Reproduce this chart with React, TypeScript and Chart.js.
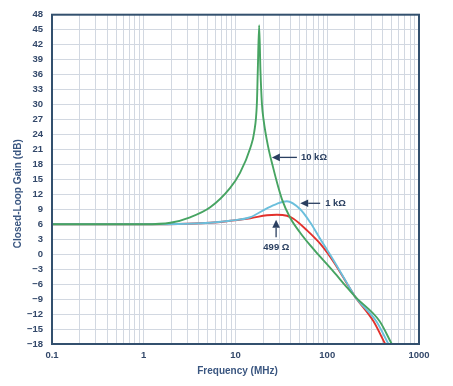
import React, { useEffect, useRef } from 'react';
import { Chart, registerables } from 'chart.js';

Chart.register(...registerables);

// ---- data ----
const X_TICKS = [0.1, 1, 10, 100, 1000];
const Y_TICKS = [-18, -15, -12, -9, -6, -3, 0, 3, 6, 9, 12, 15, 18, 21, 24, 27, 30, 33, 36, 39, 42, 45, 48];

const GREEN_FREQ = [0.1, 1, 1.95, 3.2, 5.3, 8.75, 11.2, 14.5, 16.0, 17.1, 17.5, 18.1, 18.7, 19.4, 20.2, 22.7, 25.6, 29.4, 32.1, 39.4, 50.7, 65, 83.7, 117, 163, 201, 371, 505];
const GREEN_GAIN = [6, 6, 6.3, 7.4, 9.4, 13.3, 16.3, 21.3, 24.5, 30.2, 36.8, 45.9, 36.8, 30.2, 27.0, 21.5, 17.5, 13.3, 11.0, 7.3, 4.3, 1.8, -0.5, -3.5, -6.6, -8.5, -13.4, -18];

const BLUE_FREQ = [0.1, 1, 3, 5.3, 8.75, 14.5, 22, 28.2, 36.3, 50.7, 65, 83.7, 117, 163, 201, 341, 464];
const BLUE_GAIN = [6, 6, 6.1, 6.3, 6.7, 7.4, 9.2, 10.1, 10.6, 9.0, 6.4, 3.1, -1.2, -5.7, -8.5, -13.4, -18];

const RED_FREQ = [0.1, 1, 3, 5.3, 8.75, 14.5, 22, 28.2, 36.3, 42.8, 60, 83.7, 117, 163, 201, 318, 428];
const RED_GAIN = [6, 6, 6.1, 6.3, 6.7, 7.2, 7.8, 7.9, 7.7, 7.1, 4.8, 2.1, -1.5, -5.8, -8.5, -13.4, -18];

const SERIES_LABELS = ['10 kΩ', '1 kΩ', '499 Ω'];

// annotation anchors in data units (frequency, gain)
const ANNOTATIONS = [
  { text: '10 kΩ', tip: [24.9, 19.4], tail: [46.7, 19.4], label: [51.6, 19.4], align: 'left' },
  { text: '1 kΩ', tip: [50.7, 10.2], tail: [83.7, 10.2], label: [94.9, 10.2], align: 'left' },
  { text: '499 Ω', tip: [27.7, 6.9], tail: [27.7, 3.4], label: [27.9, 1.3], align: 'center' },
];

const X_TITLE = 'Frequency (MHz)';
const Y_TITLE = 'Closed-Loop Gain (dB)';

const FONT = '"Liberation Sans", Arial, Helvetica, sans-serif';
const TICK_COLOR = '#33486a';
const TITLE_COLOR = '#3a5680';
const NOTE_COLOR = '#2a3f60';
const GRID_COLOR = '#d2d8e1';
const BORDER_COLOR = '#33506e';

function gridValues(): number[] {
  const out: number[] = [];
  for (let d = 0; d < X_TICKS.length - 1; d++) {
    for (let k = 1; k <= 9; k++) out.push(X_TICKS[d] * k);
  }
  out.push(X_TICKS[X_TICKS.length - 1]);
  return out;
}

const overlayPlugin = {
  id: 'overlay',
  afterDraw(chart: any) {
    const { ctx, chartArea } = chart;
    const xs = chart.scales.x;
    const ys = chart.scales.y;
    ctx.save();
    // plot border
    ctx.strokeStyle = BORDER_COLOR;
    ctx.lineWidth = 2;
    ctx.strokeRect(chartArea.left, chartArea.top, chartArea.right - chartArea.left, chartArea.bottom - chartArea.top);

    // annotations
    ctx.fillStyle = NOTE_COLOR;
    ctx.strokeStyle = NOTE_COLOR;
    ctx.font = `bold 9.5px ${FONT}`;
    ANNOTATIONS.forEach((a) => {
      const tx = xs.getPixelForValue(a.tip[0]);
      const ty = ys.getPixelForValue(a.tip[1]);
      const sx = xs.getPixelForValue(a.tail[0]);
      const sy = ys.getPixelForValue(a.tail[1]);
      const ang = Math.atan2(ty - sy, tx - sx);
      const headLen = 8;
      const headHalf = 3.8;
      const bx = tx - Math.cos(ang) * headLen;
      const by = ty - Math.sin(ang) * headLen;
      ctx.lineWidth = 1.3;
      ctx.beginPath();
      ctx.moveTo(sx, sy);
      ctx.lineTo(bx, by);
      ctx.stroke();
      ctx.beginPath();
      ctx.moveTo(tx, ty);
      ctx.lineTo(bx - Math.sin(ang) * headHalf, by + Math.cos(ang) * headHalf);
      ctx.lineTo(bx + Math.sin(ang) * headHalf, by - Math.cos(ang) * headHalf);
      ctx.closePath();
      ctx.fill();
      ctx.textAlign = a.align as CanvasTextAlign;
      ctx.textBaseline = 'middle';
      ctx.fillText(a.text, xs.getPixelForValue(a.label[0]), ys.getPixelForValue(a.label[1]));
    });

    // axis titles
    ctx.fillStyle = TITLE_COLOR;
    ctx.font = `bold 10px ${FONT}`;
    ctx.textAlign = 'center';
    ctx.textBaseline = 'middle';
    ctx.fillText(X_TITLE, (chartArea.left + chartArea.right) / 2 + 2, chartArea.bottom + 27);
    ctx.save();
    ctx.translate(chartArea.left - 33.5, chartArea.top + 179);
    ctx.rotate(-Math.PI / 2);
    ctx.fillText(Y_TITLE, 0, 0);
    ctx.restore();
    ctx.restore();
  },
};

export default function App() {
  const canvasRef = useRef<HTMLCanvasElement | null>(null);

  useEffect(() => {
    const canvas = canvasRef.current;
    if (!canvas) return;
    const toPts = (fs: number[], gs: number[]) => fs.map((f, i) => ({ x: f, y: gs[i] }));
    const common = {
      pointRadius: 0,
      borderWidth: 1.9,
      cubicInterpolationMode: 'monotone' as const,
      fill: false,
    };
    const chart = new Chart(canvas, {
      type: 'line',
      data: {
        datasets: [
          { ...common, label: SERIES_LABELS[0], data: toPts(GREEN_FREQ, GREEN_GAIN), borderColor: '#47a462' },
          { ...common, label: SERIES_LABELS[1], data: toPts(BLUE_FREQ, BLUE_GAIN), borderColor: '#6bbfdc' },
          { ...common, label: SERIES_LABELS[2], data: toPts(RED_FREQ, RED_GAIN), borderColor: '#e2312c' },
        ],
      },
      options: {
        animation: false,
        responsive: false,
        devicePixelRatio: 1,
        layout: { padding: { top: 12, right: 34, left: 0, bottom: 0 } },
        plugins: { legend: { display: false }, tooltip: { enabled: false }, title: { display: false } },
        scales: {
          x: {
            type: 'logarithmic',
            min: 0.1,
            max: 1000,
            afterBuildTicks: (scale: any) => {
              scale.ticks = gridValues().map((v) => ({ value: v }));
            },
            afterFit: (scale: any) => {
              scale.height = 42;
            },
            grid: { color: GRID_COLOR, lineWidth: 1, drawTicks: false },
            border: { display: false },
            ticks: {
              autoSkip: false,
              maxRotation: 0,
              padding: 6,
              color: TICK_COLOR,
              font: { family: FONT, size: 9.5, weight: 'bold' },
              callback: (v: any) => {
                const n = Number(v);
                return X_TICKS.some((t) => Math.abs(t - n) < 1e-9) ? String(n) : '';
              },
            },
          },
          y: {
            min: -18,
            max: 48,
            afterBuildTicks: (scale: any) => {
              scale.ticks = Y_TICKS.map((v) => ({ value: v }));
            },
            afterFit: (scale: any) => {
              scale.width = 52;
            },
            grid: { color: GRID_COLOR, lineWidth: 1, drawTicks: false },
            border: { display: false },
            ticks: {
              padding: 9,
              color: TICK_COLOR,
              font: { family: FONT, size: 9.5, weight: 'bold' },
              callback: (v: any) => {
                const n = Number(v);
                return n < 0 ? '\u2212' + Math.abs(n) : String(n);
              },
            },
          },
        },
      },
      plugins: [overlayPlugin],
    } as any);
    return () => chart.destroy();
  }, []);

  return (
    <div style={{ position: 'fixed', left: 0, top: 0, width: 453, height: 386, background: '#ffffff' }}>
      <canvas ref={canvasRef} width={453} height={386} style={{ display: 'block', width: 453, height: 386 }} />
    </div>
  );
}
